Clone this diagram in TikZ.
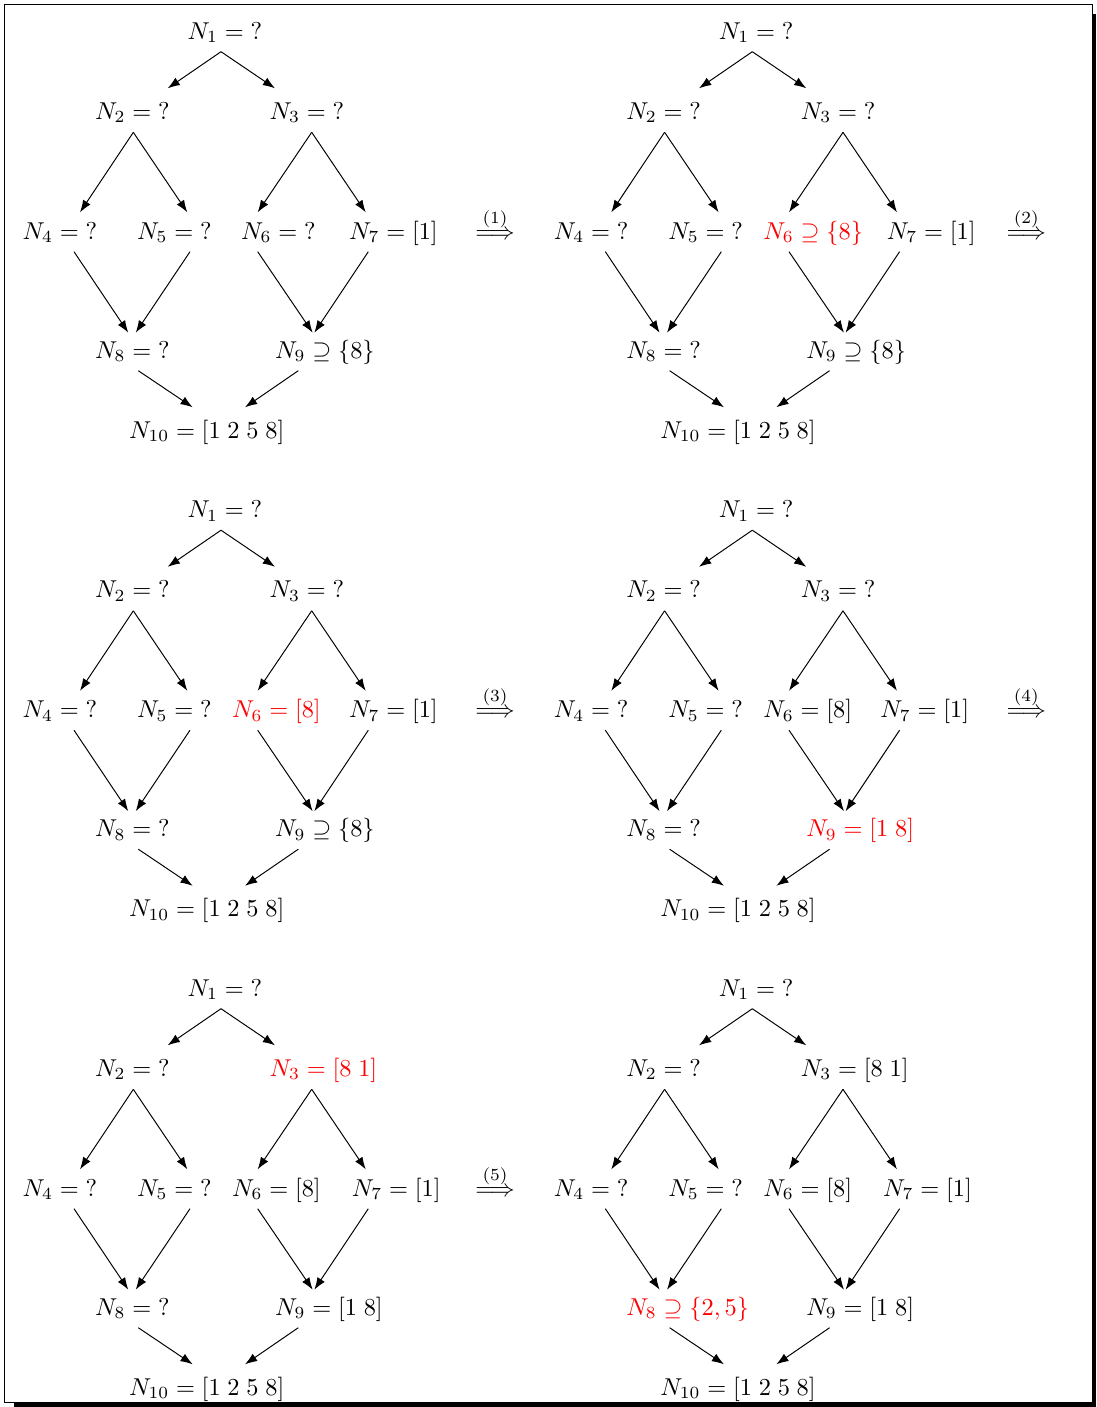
\documentclass[tikz,border=0pt]{standalone}
\usepackage{amsmath}
\usetikzlibrary{arrows.meta}
\tikzset{
  lab/.style={anchor=base west, inner sep=0pt, outer sep=0pt},
  arr/.style={-{Latex[length=5pt,width=3.6pt]}, line width=0.4pt},
  stepnode/.style={anchor=base, inner sep=0pt},
}
% #1 prefix, #2 N3 text, #3 N6 text, #4 N6 x, #5 N7 x, #6 N8 text, #7 N9 text
\newcommand{\treepanel}[7]{%
  \node[lab] (#1n1) at (187.5,39.3) {$N_1 = {?}$};
  \node[lab] (#1n2) at (95,119.3) {$N_2 = {?}$};
  \node[lab] (#1n3) at (269.5,119.3) {#2};
  \node[lab] (#1n4) at (22.5,239.3) {$N_4 = {?}$};
  \node[lab] (#1n5) at (137,239.3) {$N_5 = {?}$};
  \node[lab] (#1n6) at (#4,239.3) {#3};
  \node[lab] (#1n7) at (#5,239.3) {$N_7 = [1]$};
  \node[lab] (#1n8) at (95,358.3) {#6};
  \node[lab] (#1n9) at (275,358.3) {#7};
  \node[lab] (#1n10) at (129,438.3) {$N_{10} = [1\;2\;5\;8]$};
  \coordinate (#1o1) at (221,51.7);
  \coordinate (#1i2) at (167.7,88.3);
  \coordinate (#1i3) at (275,88.3);
  \coordinate (#1o2) at (133.3,132.3);
  \coordinate (#1o3) at (311.7,132.3);
  \coordinate (#1i4) at (80,212.3);
  \coordinate (#1i5) at (187.3,212.3);
  \coordinate (#1i6) at (257.7,212.3);
  \coordinate (#1i7) at (365.7,212.3);
  \coordinate (#1o4) at (74,251.7);
  \coordinate (#1o5) at (190,251.7);
  \coordinate (#1o6) at (257.7,251.7);
  \coordinate (#1o7) at (368.3,251.7);
  \coordinate (#1i8a) at (128.3,332.7);
  \coordinate (#1i8b) at (135.7,332.7);
  \coordinate (#1i9a) at (312.7,332.7);
  \coordinate (#1i9b) at (314.3,332.7);
  \coordinate (#1o8) at (138.3,370.7);
  \coordinate (#1o9) at (298.3,370.7);
  \coordinate (#1i10a) at (192.7,407.3);
  \coordinate (#1i10b) at (245,407.3);
  \draw[arr] (#1o1) -- (#1i2);
  \draw[arr] (#1o1) -- (#1i3);
  \draw[arr] (#1o2) -- (#1i4);
  \draw[arr] (#1o2) -- (#1i5);
  \draw[arr] (#1o3) -- (#1i6);
  \draw[arr] (#1o3) -- (#1i7);
  \draw[arr] (#1o4) -- (#1i8a);
  \draw[arr] (#1o5) -- (#1i8b);
  \draw[arr] (#1o6) -- (#1i9a);
  \draw[arr] (#1o7) -- (#1i9b);
  \draw[arr] (#1o8) -- (#1i10a);
  \draw[arr] (#1o9) -- (#1i10b);
}
\newcommand{\stepmark}[2]{%
  \node[stepnode] (#1) at (495,239.3) {$\overset{(#2)}{\Longrightarrow}$};
}
\begin{document}
\begin{tikzpicture}[x=0.41pt,y=-0.41pt]
  \useasboundingbox (0,0) rectangle (1096,1407);
  \fill[black] (14,14) rectangle (1096,1407);
  \draw[line width=0.4pt, fill=white] (4.2,4.2) rectangle (1092.5,1402.3);

  \begin{scope}
    \treepanel{a}{$N_3 = {?}$}{$N_6 = {?}$}{241}{349}{$N_8 = {?}$}{$N_9 \supseteq \{8\}$}
    \stepmark{s1}{1}
  \end{scope}
  \begin{scope}[shift={(531.3,0)}]
    \treepanel{b}{$N_3 = {?}$}{\color{red}$N_6 \supseteq \{8\}$}{232}{355.5}{$N_8 = {?}$}{$N_9 \supseteq \{8\}$}
    \stepmark{s2}{2}
  \end{scope}
  \begin{scope}[shift={(0,478.5)}]
    \treepanel{c}{$N_3 = {?}$}{\color{red}$N_6 = [8]$}{232}{349}{$N_8 = {?}$}{$N_9 \supseteq \{8\}$}
    \stepmark{s3}{3}
  \end{scope}
  \begin{scope}[shift={(531.3,478.5)}]
    \treepanel{d}{$N_3 = {?}$}{$N_6 = [8]$}{232}{349}{$N_8 = {?}$}{\color{red}$N_9 = [1\;8]$}
    \stepmark{s4}{4}
  \end{scope}
  \begin{scope}[shift={(0,957)}]
    \treepanel{e}{\color{red}$N_3 = [8\;1]$}{$N_6 = [8]$}{232}{351.8}{$N_8 = {?}$}{$N_9 = [1\;8]$}
    \stepmark{s5}{5}
  \end{scope}
  \begin{scope}[shift={(531.3,957)}]
    \treepanel{f}{$N_3 = [8\;1]$}{$N_6 = [8]$}{232}{351.8}{\color{red}$N_8 \supseteq \{2, 5\}$}{$N_9 = [1\;8]$}
  \end{scope}
\end{tikzpicture}
\end{document}
